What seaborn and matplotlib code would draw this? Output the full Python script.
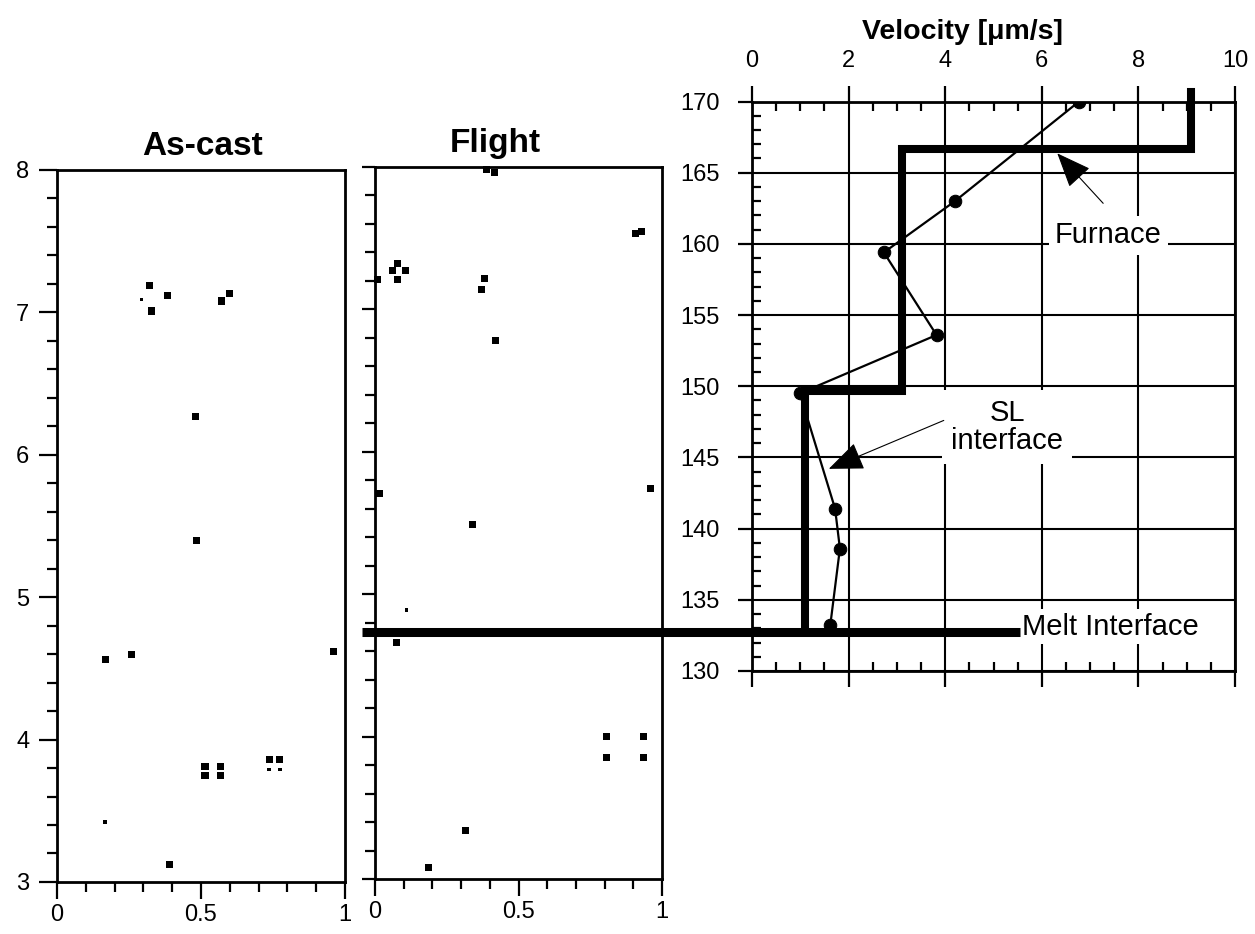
import matplotlib
matplotlib.use("Agg")
import matplotlib.pyplot as plt
import seaborn as sns
import pandas as pd
from matplotlib.ticker import MultipleLocator

# Particle locations: fractional position across the sample vs distance along it
ascast_x = [0.320, 0.294, 0.329, 0.385, 0.572, 0.598, 0.480, 0.483, 0.167, 0.259,
            0.960, 0.514, 0.514, 0.568, 0.568, 0.737, 0.774, 0.737, 0.774, 0.167, 0.392]
ascast_y = [7.19, 7.09, 7.01, 7.12, 7.08, 7.13, 6.27, 5.40, 4.56, 4.60,
            4.62, 3.81, 3.75, 3.81, 3.75, 3.86, 3.86, 3.79, 3.79, 3.42, 3.12]
ascast_kind = ["dot", "speck", "dot", "dot", "dot", "dot", "dot", "dot", "dot", "dot",
               "dot", "dot", "dot", "dot", "dot", "dot", "dot", "speck", "speck", "speck", "dot"]

flight_x = [0.389, 0.415, 0.909, 0.929, 0.078, 0.060, 0.107, 0.078, 0.008, 0.381,
            0.372, 0.420, 0.014, 0.960, 0.340, 0.110, 0.076, 0.807, 0.807, 0.937,
            0.937, 0.316, 0.188]
flight_y = [7.98, 7.96, 7.53, 7.55, 7.32, 7.27, 7.27, 7.21, 7.21, 7.22,
            7.14, 6.78, 5.71, 5.74, 5.49, 4.89, 4.66, 4.00, 3.855, 4.00,
            3.855, 3.34, 3.08]
flight_kind = ["dot"] * 15 + ["speck"] + ["dot"] * 7

# Measured interface velocity along the sample
velocity = [6.77, 4.20, 2.73, 3.82, 0.99, 1.72, 1.82, 1.62]
position = [170.0, 163.0, 159.4, 153.6, 149.5, 141.4, 138.6, 133.2]

# Furnace translation rate (step profile)
furnace_velocity = [9.08, 9.08, 3.10, 3.10, 1.10, 1.10]
furnace_position = [170.7, 166.7, 166.7, 149.7, 149.7, 132.75]

melt_interface = 132.75

sns.set_style("white")
plt.rcParams["font.family"] = ["Liberation Sans", "DejaVu Sans"]
plt.rcParams["axes.edgecolor"] = "black"
plt.rcParams["axes.linewidth"] = 2.0
plt.rcParams["text.color"] = "black"
plt.rcParams["axes.labelcolor"] = "black"
plt.rcParams["xtick.color"] = "black"
plt.rcParams["ytick.color"] = "black"

TICK_FS = 17
fig = plt.figure(figsize=(12.55, 9.34), dpi=100)
ax_a = fig.add_axes([0.0454, 0.0557, 0.2295, 0.7623])
ax_f = fig.add_axes([0.2988, 0.0589, 0.2287, 0.7623])
ax_r = fig.add_axes([0.5992, 0.2816, 0.3849, 0.6097])

sizes = {"dot": 26, "speck": 7}


def particle_panel(ax, xs, ys, kinds, title, title_x, ylabels):
    df = pd.DataFrame({"x": xs, "y": ys, "kind": kinds})
    sns.scatterplot(data=df, x="x", y="y", size="kind", sizes=sizes, marker="s",
                    color="black", linewidth=0, legend=False, ax=ax, clip_on=False)
    ax.set_xlim(0, 1)
    ax.set_ylim(3, 8)
    ax.set_xticks([0, 0.5, 1])
    ax.set_xticklabels(["0", "0.5", "1"])
    ax.xaxis.set_minor_locator(MultipleLocator(0.1))
    ax.yaxis.set_major_locator(MultipleLocator(1))
    ax.yaxis.set_minor_locator(MultipleLocator(0.2))
    ax.tick_params(which="both", direction="out", width=1.6, color="black",
                   labelsize=TICK_FS, labelcolor="black", bottom=True, left=True)
    ax.tick_params(which="major", length=13 if ylabels else 9.5)
    ax.tick_params(axis="x", which="major", length=12.5, pad=3)
    ax.tick_params(which="minor", length=7)
    ax.tick_params(axis="y", pad=7, labelleft=ylabels)
    ax.set_xlabel("")
    ax.set_ylabel("")
    for s in ax.spines.values():
        s.set_linewidth(2.0)
    ax.set_title(title, fontsize=24, fontweight="bold", pad=11, x=title_x,
                 color="black")


particle_panel(ax_a, ascast_x, ascast_y, ascast_kind, "As-cast", 0.507, True)
particle_panel(ax_f, flight_x, flight_y, flight_kind, "Flight", 0.42, False)

# Velocity profile panel
ax_r.set_axisbelow(True)
ax_r.grid(True, which="major", color="black", linewidth=1.5)
sns.lineplot(x=furnace_velocity, y=furnace_position, sort=False, estimator=None,
             color="black", linewidth=5.8, ax=ax_r, clip_on=False,
             solid_joinstyle="miter", solid_capstyle="projecting", zorder=4)
sns.lineplot(x=velocity, y=position, sort=False, estimator=None, color="black",
             linewidth=1.6, marker="o", markersize=9, markeredgecolor="black",
             ax=ax_r, zorder=5)

ax_r.plot([-8.07, 5.55], [melt_interface, melt_interface], color="black",
          linewidth=6.5, solid_capstyle="butt", clip_on=False, zorder=6)

ax_r.set_xlim(0, 10)
ax_r.set_ylim(130, 170)
ax_r.xaxis.set_major_locator(MultipleLocator(2))
ax_r.xaxis.set_minor_locator(MultipleLocator(0.5))
ax_r.yaxis.set_major_locator(MultipleLocator(5))
ax_r.yaxis.set_minor_locator(MultipleLocator(1))
ax_r.tick_params(axis="x", which="major", direction="out", top=True, bottom=True,
                 labeltop=True, labelbottom=False, length=11.5, width=1.6,
                 labelsize=TICK_FS, pad=10)
ax_r.tick_params(axis="x", which="minor", direction="in", top=True, bottom=True,
                 length=6.5, width=1.6)
ax_r.tick_params(axis="y", which="major", direction="out", left=True, right=False,
                 length=10, width=1.6, labelsize=TICK_FS, pad=13)
ax_r.tick_params(axis="y", which="minor", direction="in", left=True, right=False,
                 length=6.5, width=1.6)
for s in ax_r.spines.values():
    s.set_linewidth(2.0)
ax_r.set_ylabel("")
ax_r.xaxis.set_label_position("top")
ax_r.set_xlabel("Velocity [\u03bcm/s]", fontsize=20.5, fontweight="bold")
ax_r.xaxis.set_label_coords(0.436, 1.11)

label_box = dict(boxstyle="square,pad=0.2", fc="white", ec="none")
ax_r.text(6.27, 160.6, "Furnace", fontsize=21, ha="left", va="center",
          bbox=label_box, zorder=3)
ax_r.annotate("", xy=(6.32, 166.36), xytext=(7.27, 162.85),
              arrowprops=dict(arrowstyle="-|>,head_length=1.1,head_width=0.45",
                              mutation_scale=20, lw=0.8, color="black",
                              shrinkA=0, shrinkB=0), zorder=7)

ax_r.text(5.28, 147.15, "SL\ninterface", fontsize=21, ha="center", va="center",
          multialignment="center", linespacing=1.0,
          bbox=dict(boxstyle="square,pad=0.3", fc="white", ec="none"), zorder=3)
ax_r.annotate("", xy=(1.59, 144.2), xytext=(3.97, 147.6),
              arrowprops=dict(arrowstyle="-|>,head_length=1.1,head_width=0.45",
                              mutation_scale=20, lw=0.8, color="black",
                              shrinkA=0, shrinkB=0), zorder=7)

ax_r.text(5.58, 133.1, "Melt Interface", fontsize=21, ha="left", va="center",
          bbox=dict(boxstyle="square,pad=0.12", fc="white", ec="none"), zorder=3)

fig.savefig("out.png", dpi=100)
